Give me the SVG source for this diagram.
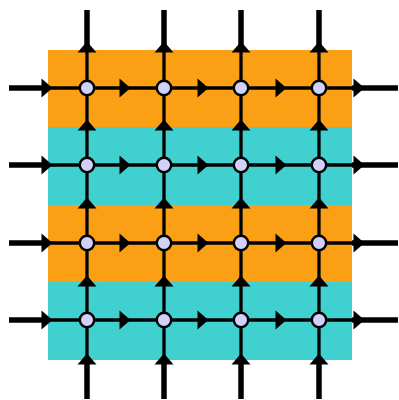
<svg xmlns="http://www.w3.org/2000/svg" xmlns:xlink="http://www.w3.org/1999/xlink" width="399" height="400" viewBox="0 0 399 400">
<style>
.ln{stroke:#000;stroke-width:3.3;fill:none}
.st{stroke:#000;stroke-width:5.5;fill:none}
.nd{fill:#D0D0F8;stroke:#000;stroke-width:2.4}
.or{fill:#FBA014}
.cy{fill:#40D0D0}
</style>
<defs>
<polygon id="ah" points="-5.5,-9.5 5.5,0 -5.5,9.5" fill="#000"/>
</defs>
<rect width="399" height="400" fill="#fff"/>
<g id="bands">
<rect class="or" x="48" y="50" width="304" height="77"/>
<rect class="cy" x="48" y="127" width="304" height="78"/>
<rect class="or" x="48" y="205" width="304" height="77"/>
<rect class="cy" x="48" y="282" width="304" height="78"/>
</g>
<g id="connectors">
<path class="ln" d="M48 88H352M48 165H352M48 243H352M48 320H352"/>
<path class="ln" d="M87 50V360M164 50V360M241 50V360M319 50V360"/>
<path class="st" d="M9 88H48M9 165H48M9 243H48M9 320H48"/>
<path class="st" d="M352 88H398M352 165H398M352 243H398M352 320H398"/>
<path class="st" d="M87 10V50M164 10V50M241 10V50M319 10V50"/>
<path class="st" d="M87 360V399M164 360V399M241 360V399M319 360V399"/>
<g id="h-arrows">
<use xlink:href="#ah" x="47" y="88"/><use xlink:href="#ah" x="125" y="88"/><use xlink:href="#ah" x="203" y="88"/><use xlink:href="#ah" x="281" y="88"/><use xlink:href="#ah" x="359" y="88"/>
<use xlink:href="#ah" x="47" y="165"/><use xlink:href="#ah" x="125" y="165"/><use xlink:href="#ah" x="203" y="165"/><use xlink:href="#ah" x="281" y="165"/><use xlink:href="#ah" x="359" y="165"/>
<use xlink:href="#ah" x="47" y="243"/><use xlink:href="#ah" x="125" y="243"/><use xlink:href="#ah" x="203" y="243"/><use xlink:href="#ah" x="281" y="243"/><use xlink:href="#ah" x="359" y="243"/>
<use xlink:href="#ah" x="47" y="320"/><use xlink:href="#ah" x="125" y="320"/><use xlink:href="#ah" x="203" y="320"/><use xlink:href="#ah" x="281" y="320"/><use xlink:href="#ah" x="359" y="320"/>
</g>
<g id="v-arrows">
<use xlink:href="#ah" transform="translate(87 47) rotate(-90)"/><use xlink:href="#ah" transform="translate(87 125) rotate(-90)"/><use xlink:href="#ah" transform="translate(87 203) rotate(-90)"/><use xlink:href="#ah" transform="translate(87 281) rotate(-90)"/><use xlink:href="#ah" transform="translate(87 359) rotate(-90)"/>
<use xlink:href="#ah" transform="translate(164 47) rotate(-90)"/><use xlink:href="#ah" transform="translate(164 125) rotate(-90)"/><use xlink:href="#ah" transform="translate(164 203) rotate(-90)"/><use xlink:href="#ah" transform="translate(164 281) rotate(-90)"/><use xlink:href="#ah" transform="translate(164 359) rotate(-90)"/>
<use xlink:href="#ah" transform="translate(241 47) rotate(-90)"/><use xlink:href="#ah" transform="translate(241 125) rotate(-90)"/><use xlink:href="#ah" transform="translate(241 203) rotate(-90)"/><use xlink:href="#ah" transform="translate(241 281) rotate(-90)"/><use xlink:href="#ah" transform="translate(241 359) rotate(-90)"/>
<use xlink:href="#ah" transform="translate(319 47) rotate(-90)"/><use xlink:href="#ah" transform="translate(319 125) rotate(-90)"/><use xlink:href="#ah" transform="translate(319 203) rotate(-90)"/><use xlink:href="#ah" transform="translate(319 281) rotate(-90)"/><use xlink:href="#ah" transform="translate(319 359) rotate(-90)"/>
</g>
</g>
<g id="n11"><circle class="nd" cx="87" cy="88" r="7.2"/></g>
<g id="n12"><circle class="nd" cx="164" cy="88" r="7.2"/></g>
<g id="n13"><circle class="nd" cx="241" cy="88" r="7.2"/></g>
<g id="n14"><circle class="nd" cx="319" cy="88" r="7.2"/></g>
<g id="n21"><circle class="nd" cx="87" cy="165" r="7.2"/></g>
<g id="n22"><circle class="nd" cx="164" cy="165" r="7.2"/></g>
<g id="n23"><circle class="nd" cx="241" cy="165" r="7.2"/></g>
<g id="n24"><circle class="nd" cx="319" cy="165" r="7.2"/></g>
<g id="n31"><circle class="nd" cx="87" cy="243" r="7.2"/></g>
<g id="n32"><circle class="nd" cx="164" cy="243" r="7.2"/></g>
<g id="n33"><circle class="nd" cx="241" cy="243" r="7.2"/></g>
<g id="n34"><circle class="nd" cx="319" cy="243" r="7.2"/></g>
<g id="n41"><circle class="nd" cx="87" cy="320" r="7.2"/></g>
<g id="n42"><circle class="nd" cx="164" cy="320" r="7.2"/></g>
<g id="n43"><circle class="nd" cx="241" cy="320" r="7.2"/></g>
<g id="n44"><circle class="nd" cx="319" cy="320" r="7.2"/></g>
</svg>
